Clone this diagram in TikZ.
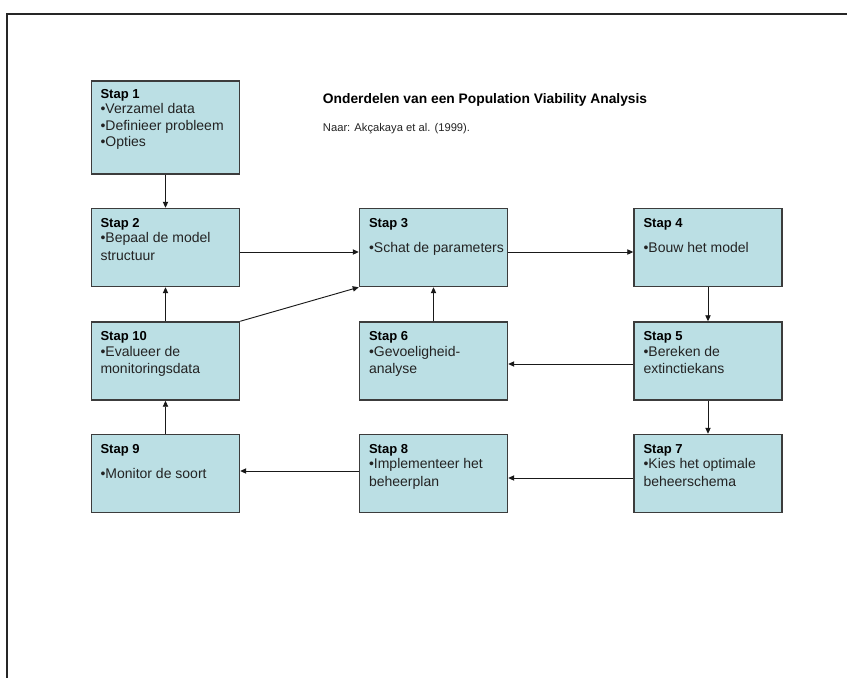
\documentclass[tikz,border=0pt]{standalone}
\usepackage{fontspec}
\setmainfont{Liberation Sans}
\usetikzlibrary{arrows.meta}
\definecolor{boxfill}{RGB}{187,223,228}
\definecolor{boxline}{RGB}{60,60,60}
\definecolor{txt}{RGB}{35,35,35}
\begin{document}
\begin{tikzpicture}[x=0.75pt,y=-0.75pt,
  box/.style={draw=boxline, fill=boxfill, line width=1.1pt, minimum width=111pt, minimum height=58.5pt, inner sep=0pt, anchor=center},
  hdr/.style={anchor=base west, inner sep=0pt, text=black, font=\fontsize{9.75pt}{11pt}\selectfont\bfseries},
  bul/.style={anchor=base west, inner sep=0pt, text=txt, font=\fontsize{10.5pt}{12pt}\selectfont},
  ttl/.style={anchor=base west, inner sep=0pt, text=black, font=\fontsize{10.35pt}{12pt}\selectfont\bfseries},
  cit/.style={anchor=base west, inner sep=0pt, text=txt, font=\fontsize{8.4pt}{10pt}\selectfont},
  arr/.style={-{Triangle[length=4.5pt,width=4pt]}, line width=0.7pt, draw=black!90},
  frame/.style={line width=1.3pt, draw=black!85}]
\useasboundingbox (0,0) rectangle (847,678);
% frame
\draw[frame] (7.3,678) -- (7.3,14.3) -- (847,14.3);
% title
\node[ttl] (title) at (322.7,103.3) {Onderdelen van een Population Viability Analysis};
\node[cit] (cite) at (322.7,131) {Naar: Akçakaya et al. (1999).};
% boxes
\node[box, minimum height=69.75pt] (s1) at (165.5,127.5) {};
\node[box] (s2) at (165.5,247.5) {};
\node[box] (s3) at (433.5,247.5) {};
\node[box] (s4) at (708,247.5) {};
\node[box] (s10) at (165.5,361) {};
\node[box] (s6) at (433.5,361) {};
\node[box] (s5) at (708,361) {};
\node[box] (s9) at (165.5,473.5) {};
\node[box] (s8) at (433.5,473.5) {};
\node[box] (s7) at (708,473.5) {};
% texts
\node[hdr] (s1h) at ([shift={(9.5,18)}]s1.north west) {Stap 1};
\node[bul] (s1a) at ([shift={(9.5,33.5)}]s1.north west) {•Verzamel data};
\node[bul] (s1b) at ([shift={(9.5,50)}]s1.north west) {•Definieer probleem};
\node[bul] (s1c) at ([shift={(9.5,66.5)}]s1.north west) {•Opties};
\node[hdr] (s2h) at ([shift={(9.5,19.5)}]s2.north west) {Stap 2};
\node[bul] (s2a) at ([shift={(9.5,35)}]s2.north west) {•Bepaal de model};
\node[bul] (s2b) at ([shift={(9.5,52.5)}]s2.north west) {structuur};
\node[hdr] (s3h) at ([shift={(10,19.5)}]s3.north west) {Stap 3};
\node[bul] (s3a) at ([shift={(10,44.5)}]s3.north west) {•Schat de parameters};
\node[hdr] (s4h) at ([shift={(10,19.5)}]s4.north west) {Stap 4};
\node[bul] (s4a) at ([shift={(10,44.5)}]s4.north west) {•Bouw het model};
\node[hdr] (s10h) at ([shift={(9.5,19.5)}]s10.north west) {Stap 10};
\node[bul] (s10a) at ([shift={(9.5,35)}]s10.north west) {•Evalueer de};
\node[bul] (s10b) at ([shift={(9.5,52.5)}]s10.north west) {monitoringsdata};
\node[hdr] (s6h) at ([shift={(10,19.5)}]s6.north west) {Stap 6};
\node[bul] (s6a) at ([shift={(10,35)}]s6.north west) {•Gevoeligheid-};
\node[bul] (s6b) at ([shift={(10,52.5)}]s6.north west) {analyse};
\node[hdr] (s5h) at ([shift={(10,19.5)}]s5.north west) {Stap 5};
\node[bul] (s5a) at ([shift={(10,35)}]s5.north west) {•Bereken de};
\node[bul] (s5b) at ([shift={(10,52.5)}]s5.north west) {extinctiekans};
\node[hdr] (s9h) at ([shift={(9.5,19.5)}]s9.north west) {Stap 9};
\node[bul] (s9a) at ([shift={(9.5,44.5)}]s9.north west) {•Monitor de soort};
\node[hdr] (s8h) at ([shift={(10,19.5)}]s8.north west) {Stap 8};
\node[bul] (s8a) at ([shift={(10,35)}]s8.north west) {•Implementeer het};
\node[bul] (s8b) at ([shift={(10,52.5)}]s8.north west) {beheerplan};
\node[hdr] (s7h) at ([shift={(10,19.5)}]s7.north west) {Stap 7};
\node[bul] (s7a) at ([shift={(10,35)}]s7.north west) {•Kies het optimale};
\node[bul] (s7b) at ([shift={(10,52.5)}]s7.north west) {beheerschema};
% arrow levels
\coordinate (y23) at (0,252);
\coordinate (y56) at (0,364);
\coordinate (y78) at (0,478);
\coordinate (y89) at (0,471);
% arrows
\draw[arr] (s1) -- (s2);
\draw[arr] (s2.east |- y23) -- (s3.west |- y23);
\draw[arr] (s3.east |- y23) -- (s4.west |- y23);
\draw[arr] (s4) -- (s5);
\draw[arr] (s5.west |- y56) -- (s6.east |- y56);
\draw[arr] (s6) -- (s3);
\draw[arr] (s5) -- (s7);
\draw[arr] (s7.west |- y78) -- (s8.east |- y78);
\draw[arr] (s8.west |- y89) -- (s9.east |- y89);
\draw[arr] (s9) -- (s10);
\draw[arr] (s10) -- (s2);
\draw[arr] (s10.north east) -- (s3.south west);
\end{tikzpicture}
\end{document}
